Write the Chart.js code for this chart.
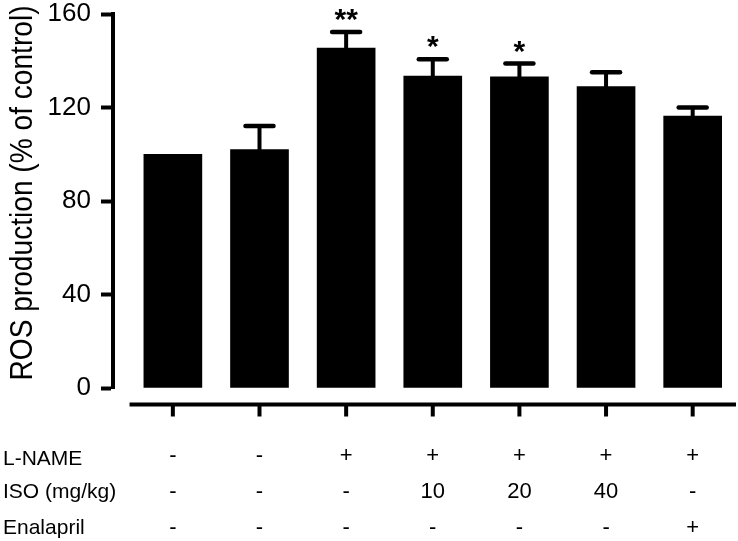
<!DOCTYPE html>
<html><head><meta charset="utf-8">
<script src="https://cdn.jsdelivr.net/npm/chart.js@4.4.0/dist/chart.umd.min.js"></script>
<style>html,body{margin:0;padding:0;background:#fff}#wrap{width:738px;height:541px;position:relative}</style>
</head><body><div id="wrap"><canvas id="c"></canvas></div>
<script>
// ---- data ----
const groupIndex = [0, 1, 2, 3, 4, 5, 6];
const rosMeans = [100, 102, 145.4, 133.4, 133.1, 128.9, 116.3];
const rosErrors = [0, 10.1, 6.9, 7.2, 5.7, 6.2, 3.7];
const significance = ['', '', '**', '*', '*', '', ''];
const yTickValues = [0, 40, 80, 120, 160];
const rowLabels = ['L-NAME', 'ISO (mg/kg)', 'Enalapril'];
const lNameRow = ['-', '-', '+', '+', '+', '+', '+'];
const isoRow = ['-', '-', '-', '10', '20', '40', '-'];
const enalaprilRow = ['-', '-', '-', '-', '-', '-', '+'];
const yTitle = 'ROS production (% of control)';

const FONT = "'Liberation Sans', Arial, Helvetica, sans-serif";
const tableRows = [lNameRow, isoRow, enalaprilRow];

const overlay = {
  id: 'overlay',
  afterDatasetsDraw(chart) {
    const ctx = chart.ctx, xs = chart.scales.x, ys = chart.scales.y;
    const meta = chart.getDatasetMeta(0);
    ctx.save();
    ctx.strokeStyle = '#000';
    ctx.fillStyle = '#000';
    meta.data.forEach((bar, i) => {
      const e = rosErrors[i];
      const top = ys.getPixelForValue(rosMeans[i] + e);
      if (e > 0) {
        ctx.lineWidth = 4; ctx.lineCap = 'butt';
        ctx.beginPath(); ctx.moveTo(bar.x, bar.y + 1); ctx.lineTo(bar.x, top); ctx.stroke();
        ctx.lineWidth = 4.5; ctx.lineCap = 'round';
        ctx.beginPath(); ctx.moveTo(bar.x - 14, top); ctx.lineTo(bar.x + 14, top); ctx.stroke();
      }
      if (significance[i]) {
        ctx.font = 'bold 30px ' + FONT;
        ctx.textAlign = 'center';
        ctx.textBaseline = 'alphabetic';
        ctx.fillText(significance[i], bar.x, top - 3);
      }
    });
    // y-axis title (narrow, like the reference)
    ctx.save();
    const midY = (ys.getPixelForValue(0) + ys.getPixelForValue(160)) / 2 - 8;
    ctx.translate(31.5, midY);
    ctx.rotate(-Math.PI / 2);
    ctx.font = '32px ' + FONT;
    ctx.textAlign = 'center';
    ctx.textBaseline = 'alphabetic';
    ctx.fillText(yTitle, 0, 0, 375);
    ctx.restore();
    // separate x axis line below the plot
    const axisY = ys.getPixelForValue(0) + 16.5;
    const x0 = xs.getPixelForValue(-0.5), x1 = xs.getPixelForValue(groupIndex.length - 0.5);
    ctx.lineCap = 'butt';
    ctx.lineWidth = 4;
    ctx.beginPath(); ctx.moveTo(x0, axisY); ctx.lineTo(x1, axisY); ctx.stroke();
    groupIndex.forEach(g => {
      const px = xs.getPixelForValue(g);
      ctx.beginPath(); ctx.moveTo(px, axisY); ctx.lineTo(px, axisY + 12); ctx.stroke();
    });
    // treatment table
    const baselines = [axisY + 60, axisY + 93, axisY + 129];
    ctx.textBaseline = 'alphabetic';
    rowLabels.forEach((lab, r) => {
      ctx.font = '21px ' + FONT;
      ctx.textAlign = 'left';
      ctx.fillText(lab, 3, baselines[r]);
      tableRows[r].forEach((v, i) => {
        ctx.font = '22px ' + FONT;
        ctx.textAlign = 'center';
        ctx.fillText(v, xs.getPixelForValue(groupIndex[i]), baselines[r] - (r === 0 ? 3 : 0));
      });
    });
    ctx.restore();
  }
};

new Chart(document.getElementById('c'), {
  type: 'bar',
  data: {
    datasets: [{
      data: groupIndex.map((g, i) => ({ x: g, y: rosMeans[i] })),
      backgroundColor: '#000',
      borderWidth: 0,
      barThickness: 58
    }]
  },
  options: {
    responsive: true,
    maintainAspectRatio: false,
    animation: false,
    layout: { padding: { left: 0, right: 2, top: 14, bottom: 153 } },
    plugins: { legend: { display: false }, tooltip: { enabled: false } },
    scales: {
      x: {
        type: 'linear', display: false, offset: false, min: -0.691, max: 6.5
      },
      y: {
        min: 0, max: 160,
        afterBuildTicks: s => { s.ticks = yTickValues.map(v => ({ value: v })); },
        afterFit: s => { s.width = 113; s.paddingTop = 0; s.paddingBottom = 0; },
        border: { display: true, color: '#000', width: 4 },
        grid: { display: true, drawOnChartArea: false, drawTicks: true, tickLength: 12, tickWidth: 4, tickColor: '#000', color: '#000' },
        ticks: { color: '#000', padding: 10, font: { family: FONT, size: 26 } },
        title: { display: false }
      }
    }
  },
  plugins: [overlay]
});
</script></body></html>
